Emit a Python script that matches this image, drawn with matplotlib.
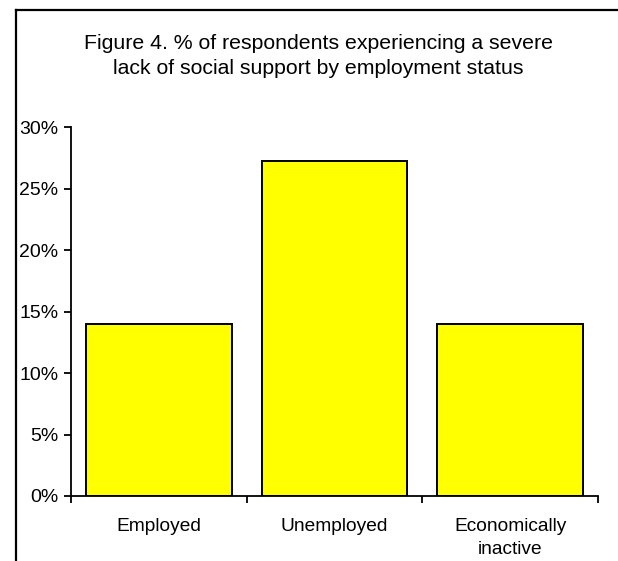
import matplotlib
matplotlib.use("Agg")
import matplotlib.pyplot as plt
from matplotlib.lines import Line2D
from matplotlib.ticker import PercentFormatter

plt.rcParams["font.family"] = ["Liberation Sans", "DejaVu Sans"]

# data
categories = ["Employed", "Unemployed", "Economically\ninactive"]
values = [14.0, 27.2, 14.0]
y_ticks = [0, 5, 10, 15, 20, 25, 30]

fig = plt.figure(figsize=(6.18, 5.61), dpi=100)
ax = fig.add_axes([71 / 618, 65 / 561, 527 / 618, 369 / 561])

x = range(len(categories))
ax.bar(x, values, width=0.83, color="#FFFF00", edgecolor="black", linewidth=1.4)

ax.set_xlim(-0.5, 2.5)
ax.set_ylim(0, 30)
ax.set_yticks(y_ticks)
ax.yaxis.set_major_formatter(PercentFormatter(decimals=0))

# category labels at centres, tick marks at the boundaries
ax.set_xticks(list(x))
ax.set_xticklabels(categories, fontsize=13.8, linespacing=1.45)
ax.set_xticks([-0.5, 0.5, 1.5, 2.5], minor=True)
ax.tick_params(axis="x", which="major", length=0, pad=16)
ax.tick_params(axis="x", which="minor", length=5, width=1.3, direction="out")
ax.tick_params(axis="y", length=5, width=1.3, direction="out", labelsize=14, pad=4)

for side in ("top", "right"):
    ax.spines[side].set_visible(False)
for side in ("left", "bottom"):
    ax.spines[side].set_linewidth(1.3)

fig.text(0.5146, 1 - 56 / 561, "Figure 4. % of respondents experiencing a severe\n"
         "lack of social support by employment status",
         ha="center", va="center", fontsize=15.3, linespacing=1.35)

# outer frame (only top and left edges visible in the crop)
fig.add_artist(Line2D([16 / 618, 16 / 618], [0, 1 - 10 / 561], transform=fig.transFigure,
                      color="black", linewidth=1.6))
fig.add_artist(Line2D([16 / 618, 1], [1 - 10 / 561, 1 - 10 / 561], transform=fig.transFigure,
                      color="black", linewidth=1.6))

fig.savefig("out.png", dpi=100)
